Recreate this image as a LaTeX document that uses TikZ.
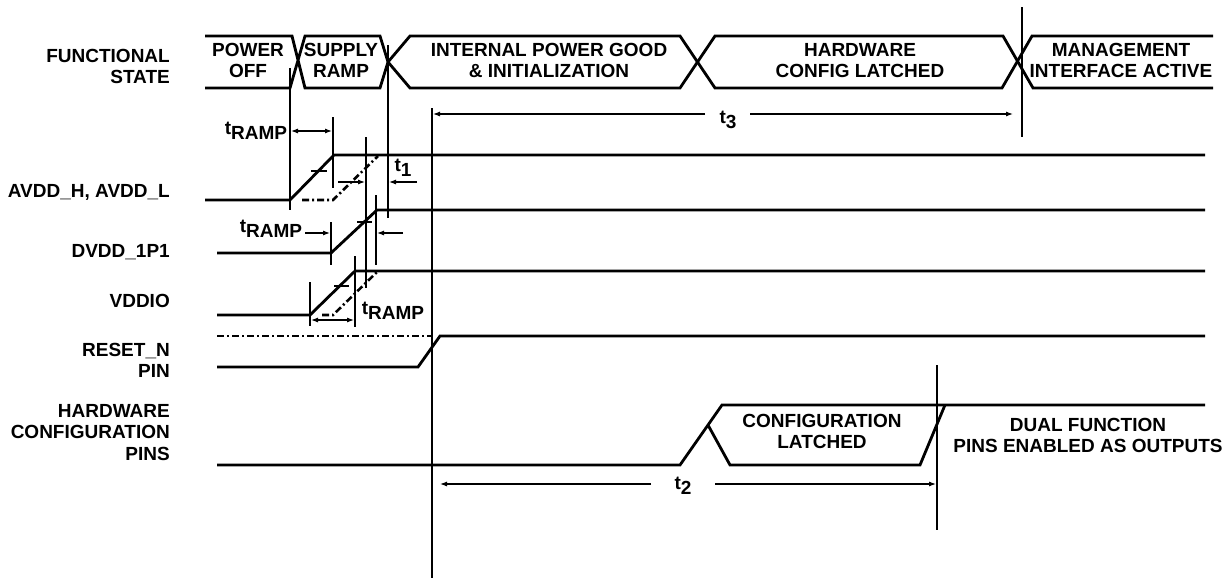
\documentclass[tikz,border=0pt]{standalone}
\usepackage{fontspec}
\setmainfont{Liberation Sans}
\usetikzlibrary{arrows.meta}
\newcommand{\tsub}[1]{t\raisebox{-5pt}{#1}}

\begin{document}
\begin{tikzpicture}[x=1pt, y=-1pt,
  lbl/.style={font=\fontsize{19}{21.5}\selectfont\bfseries, align=center, inner sep=0pt},
  sig/.style={line width=2.8pt, line join=miter},
  sigdash/.style={line width=2.6pt, dash pattern=on 7pt off 3pt on 2pt off 3pt},
  guide/.style={line width=1.2pt},
  dimarrow/.style={-{Latex[length=7pt,width=5pt]}, line width=1.1pt},
  dimboth/.style={{Latex[length=7pt,width=5pt]}-{Latex[length=7pt,width=5pt]}, line width=1.1pt}
]
  \useasboundingbox (0,0) rectangle (1231,581);

  % signal names
  \node[lbl, align=right, anchor=north east] (fstate) at (170,49) {FUNCTIONAL\\STATE};
  \node[lbl, anchor=base east] (avdd) at (170,197) {AVDD\_H, AVDD\_L};
  \node[lbl, anchor=base east] (dvdd) at (170,257) {DVDD\_1P1};
  \node[lbl, anchor=base east] (vddio) at (170,307) {VDDIO};
  \node[lbl, align=right, anchor=north east] (reset) at (170,343) {RESET\_N\\PIN};
  \node[lbl, align=right, anchor=north east] (hwcfg) at (170,404) {HARDWARE\\CONFIGURATION\\PINS};

  % functional state bus
  \draw[sig] (205,36) -- (292,36) -- (305,88) -- (380,88) -- (388,62) -- (380,36) -- (305,36)
    -- (290,88) -- (205,88);
  \draw[sig] (388,62) -- (410,36) -- (680,36) -- (715,88) -- (1002,88) -- (1032,36) -- (1213,36);
  \draw[sig] (388,62) -- (410,88) -- (680,88) -- (715,36) -- (1003,36) -- (1033,88) -- (1213,88);
  \node[lbl, anchor=north] (poff) at (248,43) {POWER\\OFF};
  \node[lbl, anchor=north] (sramp) at (341,43) {SUPPLY\\RAMP};
  \node[lbl, anchor=north] (ipg) at (549,43) {INTERNAL POWER GOOD\\\& INITIALIZATION};
  \node[lbl, anchor=north] (hcl) at (860,43) {HARDWARE\\CONFIG LATCHED};
  \node[lbl, anchor=north] (mia) at (1121,43) {MANAGEMENT\\INTERFACE ACTIVE};

  % supply rails
  \draw[sig] (205,200) -- (290,200) -- (334,155) -- (1205,155);
  \draw[sigdash] (302,200) -- (333,200) -- (378,156);
  \draw[sig] (217,253) -- (331,253) -- (377,210) -- (1205,210);
  \draw[sig] (217,315) -- (310,315) -- (355,271) -- (1205,271);
  \draw[sigdash] (322,315) -- (333,315) -- (377,272);
  \draw[guide] (311,171) -- (327,171);
  \draw[guide] (357,222) -- (372,222);
  \draw[guide] (334,286) -- (349,286);

  % reset and configuration pins
  \draw[sigdash] (217,336) -- (432,336);
  \draw[sig] (217,367) -- (418,367) -- (440,336) -- (1205,336);
  \draw[sig] (217,465) -- (680,465) -- (722,405) -- (1205,405);
  \draw[sig] (708,425) -- (730,465) -- (920,465) -- (945,405);
  \node[lbl, anchor=north] (cfglat) at (822,414) {CONFIGURATION\\LATCHED};
  \node[lbl, anchor=north] (dualfn) at (1088,418) {DUAL FUNCTION\\PINS ENABLED AS OUTPUTS};

  % guide lines
  \coordinate (g1) at (290,68);
  \coordinate (g2) at (388,45);
  \coordinate (g3) at (432,108);
  \coordinate (g4) at (1022,7);
  \coordinate (g5) at (937,365);
  \draw[guide] (g1) -- (290,210);
  \draw[guide] (g2) -- (388,218);
  \draw[guide] (g3) -- (432,578);
  \draw[guide] (g4) -- (1022,137);
  \draw[guide] (g5) -- (937,530);
  \draw[guide] (333,117) -- (333,188);
  \draw[guide] (366,137) -- (366,288);
  \draw[guide] (331,222) -- (331,265);
  \draw[guide] (376,195) -- (376,265);
  \draw[guide] (310,282) -- (310,326);
  \draw[guide] (355,256) -- (355,327);

  % timing marks
  \node[lbl] (tr1) at (256,131) {\tsub{RAMP}};
  \draw[dimboth] (291,131) -- (332,131);
  \node[lbl] (t1) at (403,168) {\tsub{1}};
  \draw[dimarrow] (338,182) -- (365,182);
  \draw[dimarrow] (417,182) -- (389,182);
  \node[lbl] (tr2) at (271,229) {\tsub{RAMP}};
  \draw[dimarrow] (305,233) -- (330,233);
  \draw[dimarrow] (403,233) -- (377,233);
  \node[lbl] (tr3) at (393,311) {\tsub{RAMP}};
  \draw[dimboth] (311,320) -- (354,320);
  \node[lbl] (t3) at (728,120) {\tsub{3}};
  \draw[dimarrow] (705,114) -- (433,114);
  \draw[dimarrow] (750,114) -- (1013,114);
  \node[lbl] (t2) at (683,486) {\tsub{2}};
  \draw[dimarrow] (651,484) -- (440,484);
  \draw[dimarrow] (715,484) -- (936,484);
\end{tikzpicture}
\end{document}
